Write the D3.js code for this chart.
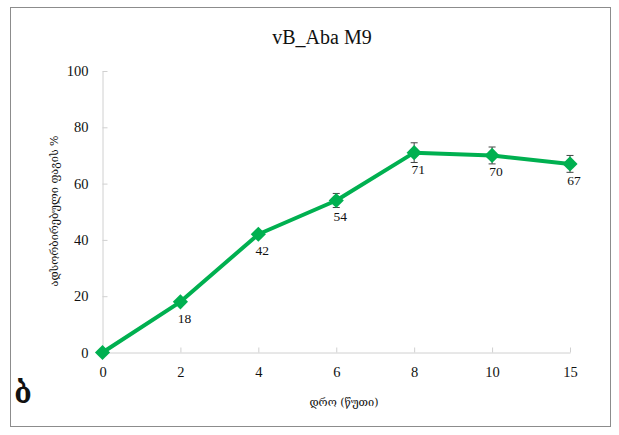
<!DOCTYPE html>
<html>
<head>
<meta charset="utf-8">
<script src="https://cdn.jsdelivr.net/npm/d3@7"></script>
<style>
  body { margin: 0; background: #fff; }
  text { font-family: "Liberation Serif", "DejaVu Serif", serif; fill: #111; }
  .geo { font-family: "DejaVu Serif", "DejaVu Sans", serif; }
</style>
</head>
<body>
<div id="chart"></div>
<script>
var svgWidth = 619;
var svgHeight = 435;

// data
var times = ["0", "2", "4", "6", "8", "10", "15"];
var adsorbed = [0, 18, 42, 54, 71, 70, 67];
var errors = [0.8, 0.8, 0.8, 2.5, 3.5, 3, 3];
var yTicks = [0, 20, 40, 60, 80, 100];

var svg = d3.select("#chart")
  .append("svg")
  .attr("width", svgWidth)
  .attr("height", svgHeight);

// frame
svg.append("rect")
  .attr("x", 10.5)
  .attr("y", 7.5)
  .attr("width", 600)
  .attr("height", 419)
  .attr("fill", "#fff")
  .attr("stroke", "#8c8c8c")
  .attr("stroke-width", 1);

var xScale = d3.scalePoint()
  .domain(times)
  .range([102.5, 570]);

var yScale = d3.scaleLinear()
  .domain([0, 100])
  .range([352.5, 71]);

// x axis, ticks inside
var xAxis = svg.append("g")
  .attr("transform", "translate(0, 352.5)")
  .call(d3.axisBottom(xScale).tickSizeInner(-5).tickSizeOuter(0).tickPadding(14));
xAxis.select(".domain").attr("stroke", "#d0d0d0");
xAxis.selectAll(".tick line").attr("stroke", "#d0d0d0");
xAxis.selectAll(".tick text")
  .attr("font-size", "14.5px")
  .attr("font-family", "Liberation Serif")
  .attr("fill", "#111");

// y axis, ticks inside
var yAxis = svg.append("g")
  .attr("transform", "translate(102.5, 0)")
  .call(d3.axisLeft(yScale).tickValues(yTicks).tickSizeInner(-5).tickSizeOuter(0).tickPadding(14));
yAxis.select(".domain").attr("stroke", "#d0d0d0");
yAxis.selectAll(".tick line").attr("stroke", "#d0d0d0");
yAxis.selectAll(".tick text")
  .attr("font-size", "14.5px")
  .attr("font-family", "Liberation Serif")
  .attr("fill", "#111");

var pts = times.map(function(t, i) {
  return { t: t, v: adsorbed[i], e: errors[i] };
});

// error bars
var eb = svg.append("g").attr("stroke", "#444").attr("stroke-width", 1);
pts.forEach(function(d) {
  var x = xScale(d.t);
  eb.append("line")
    .attr("x1", x).attr("x2", x)
    .attr("y1", yScale(d.v + d.e)).attr("y2", yScale(d.v - d.e));
  eb.append("line")
    .attr("x1", x - 3.5).attr("x2", x + 3.5)
    .attr("y1", yScale(d.v + d.e)).attr("y2", yScale(d.v + d.e));
  eb.append("line")
    .attr("x1", x - 3.5).attr("x2", x + 3.5)
    .attr("y1", yScale(d.v - d.e)).attr("y2", yScale(d.v - d.e));
});

// line
var line = d3.line()
  .x(d => xScale(d.t))
  .y(d => yScale(d.v));

svg.append("path")
  .datum(pts)
  .attr("d", line)
  .attr("fill", "none")
  .attr("stroke", "#00b050")
  .attr("stroke-width", 4)
  .attr("stroke-linejoin", "round");

// diamond markers
svg.selectAll(".marker")
  .data(pts)
  .enter()
  .append("path")
  .attr("class", "marker")
  .attr("d", d3.symbol().type(d3.symbolSquare).size(115))
  .attr("transform", d => `translate(${xScale(d.t)}, ${yScale(d.v)}) rotate(45)`)
  .attr("fill", "#00b050");

// value labels (skip the zero point)
svg.selectAll(".vlabel")
  .data(pts.filter(d => d.v > 0))
  .enter()
  .append("text")
  .attr("class", "vlabel")
  .attr("x", d => xScale(d.t) + 4)
  .attr("y", d => yScale(d.v) + 21)
  .attr("text-anchor", "middle")
  .attr("font-size", "13.5px")
  .text(d => d.v);

// title
svg.append("text")
  .attr("x", 322)
  .attr("y", 44)
  .attr("text-anchor", "middle")
  .attr("font-size", "20px")
  .text("vB_Aba M9");

// axis titles
svg.append("text")
  .attr("class", "geo")
  .attr("transform", "translate(58, 211) rotate(-90)")
  .attr("text-anchor", "middle")
  .attr("font-size", "11px")
  .text("ადსორბირებული ფაგის %");

svg.append("text")
  .attr("class", "geo")
  .attr("x", 344)
  .attr("y", 406)
  .attr("text-anchor", "middle")
  .attr("font-size", "11px")
  .text("დრო (წუთი)");

// panel letter
svg.append("text")
  .attr("class", "geo")
  .attr("x", 23)
  .attr("y", 403)
  .attr("text-anchor", "middle")
  .attr("font-size", "28px")
  .attr("font-weight", "bold")
  .text("ბ");
</script>
</body>
</html>
